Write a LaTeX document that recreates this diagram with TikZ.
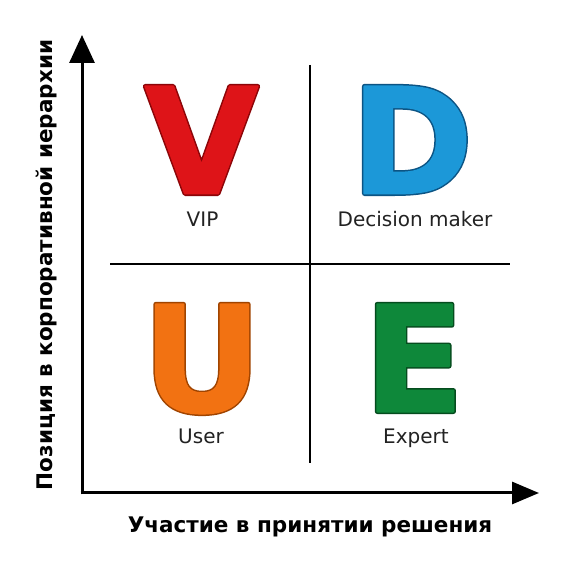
\documentclass[tikz,border=0pt]{standalone}
\usepackage{fontspec}
\setmainfont{DejaVu Sans}
\usetikzlibrary{arrows.meta}
\definecolor{vred}{RGB}{222,20,24}
\definecolor{vreddark}{RGB}{140,5,8}
\definecolor{dblue}{RGB}{28,152,216}
\definecolor{dbluedark}{RGB}{12,84,132}
\definecolor{uorange}{RGB}{242,114,18}
\definecolor{uorangedark}{RGB}{160,68,0}
\definecolor{egreen}{RGB}{14,136,58}
\definecolor{egreendark}{RGB}{5,76,30}
\definecolor{labelgray}{RGB}{34,34,34}
% #1 fill colour, #2 its rgb, #3 dark colour, #4 its rgb, #5 letter
\newcommand\colletter[5]{%
  \rlap{{\color{#3}\special{pdf:literal direct 2 Tr 5 w 1 j #4 RG}#5\special{pdf:literal direct 0 Tr}}}%
  {\color{#1}\special{pdf:literal direct 2 Tr 2 w 1 j #2 RG}#5\special{pdf:literal direct 0 Tr}}}
\begin{document}
\begin{tikzpicture}[x=1pt,y=1pt,
  bigletter/.style={inner sep=0pt,anchor=base,font=\fontsize{147}{147}\bfseries\selectfont},
  quadlabel/.style={inner sep=0pt,anchor=base,text=labelgray,font=\fontsize{20}{24}\selectfont},
  axislabel/.style={inner sep=0pt,text=black,font=\fontsize{21.5}{25}\bfseries\selectfont},
  axisline/.style={line width=3pt,draw=black},
  divider/.style={line width=2.6pt,draw=black}]
\useasboundingbox (0,0) rectangle (576,576);
\fill[white] (0,0) rectangle (576,576);
% coordinates
\coordinate (Otop) at (82,541);
\coordinate (Ovstart) at (82,81.5);
\coordinate (Ohstart) at (80.5,83);
\coordinate (Oright) at (539,83);
\coordinate (vdTop) at (310,511);
\coordinate (vdBot) at (310,113);
\coordinate (hdL) at (110,312);
\coordinate (hdR) at (510,312);
% axes
\draw[axisline,-{Triangle[length=28pt,width=25pt]}] (Ovstart) -- (Otop);
\draw[axisline,-{Triangle[length=27pt,width=22pt]}] (Ohstart) -- (Oright);
% dividers
\draw[divider] (vdTop) -- (vdBot);
\draw[divider] (hdL) -- (hdR);
% letters
\node[bigletter] (V) at (201.5,382.5) {\colletter{vred}{0.871 0.078 0.094}{vreddark}{0.55 0.02 0.03}{V}};
\node[bigletter] (D) at (412,382.5) {\colletter{dblue}{0.110 0.596 0.847}{dbluedark}{0.047 0.329 0.518}{D}};
\node[bigletter] (U) at (202,164.5) {\colletter{uorange}{0.949 0.447 0.071}{uorangedark}{0.627 0.267 0.0}{U}};
\node[bigletter] (E) at (414,164.5) {\colletter{egreen}{0.055 0.533 0.227}{egreendark}{0.020 0.298 0.118}{E}};
% labels
\node[quadlabel] (vip) at (202.5,349) {VIP};
\node[quadlabel] (dm) at (415,349) {Decision maker};
\node[quadlabel] (user) at (201,132) {User};
\node[quadlabel] (expert) at (416,132) {Expert};
% axis labels
\node[axislabel] (xlab) at (310,49) {Участие в принятии решения};
\node[axislabel,rotate=90] (ylab) at (47,311) {Позиция в корпоративной иерархии};
\end{tikzpicture}
\end{document}
